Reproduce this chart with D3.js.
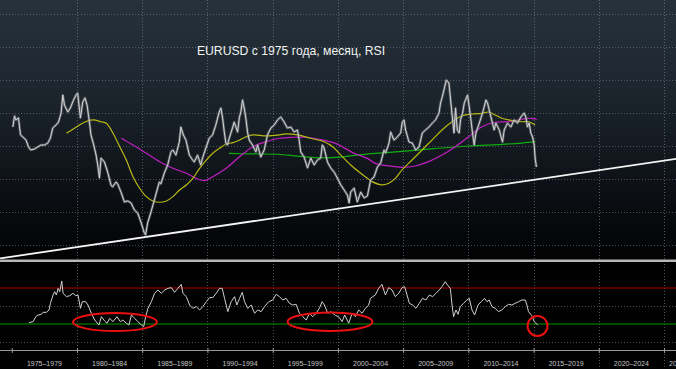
<!DOCTYPE html>
<html>
<head>
<meta charset="utf-8">
<script src="https://cdn.jsdelivr.net/npm/d3@7"></script>
<style>
  html, body { margin: 0; padding: 0; background: #000; overflow: hidden; }
  svg { display: block; }
</style>
</head>
<body>
<svg id="chart"></svg>
<script>
// EURUSD monthly (synthetic before 1999), [year, rate]
const eurusd = [[1975.08,1.315],[1975.21,1.382],[1975.31,1.358],[1975.51,1.370],[1975.67,1.267],[1975.84,1.255],[1976.09,1.236],[1976.28,1.194],[1976.45,1.176],[1976.74,1.182],[1976.99,1.194],[1977.24,1.206],[1977.50,1.206],[1977.76,1.218],[1977.96,1.248],[1978.14,1.309],[1978.39,1.327],[1978.58,1.345],[1978.78,1.400],[1978.91,1.509],[1979.04,1.448],[1979.29,1.406],[1979.49,1.430],[1979.67,1.467],[1979.92,1.509],[1980.05,1.521],[1980.26,1.370],[1980.44,1.467],[1980.61,1.491],[1980.77,1.448],[1980.95,1.345],[1981.07,1.267],[1981.28,1.206],[1981.46,1.145],[1981.59,1.085],[1981.72,1.006],[1981.84,1.127],[1982.10,1.103],[1982.35,1.042],[1982.60,0.964],[1982.73,0.952],[1982.99,0.982],[1983.12,0.970],[1983.37,0.921],[1983.63,0.861],[1983.88,0.867],[1984.14,0.855],[1984.40,0.812],[1984.65,0.794],[1984.90,0.739],[1985.16,0.673],[1985.26,0.661],[1985.41,0.733],[1985.67,0.800],[1985.93,0.873],[1986.18,0.945],[1986.31,0.982],[1986.43,0.970],[1986.69,1.036],[1986.95,1.085],[1987.20,1.164],[1987.35,1.176],[1987.58,1.145],[1987.84,1.224],[1987.96,1.315],[1988.15,1.267],[1988.35,1.236],[1988.61,1.145],[1988.86,1.115],[1988.99,1.103],[1989.24,1.145],[1989.49,1.085],[1989.62,1.127],[1989.88,1.188],[1990.14,1.248],[1990.39,1.267],[1990.64,1.327],[1990.90,1.406],[1991.03,1.430],[1991.16,1.370],[1991.29,1.285],[1991.41,1.218],[1991.54,1.206],[1991.67,1.248],[1991.92,1.309],[1992.05,1.345],[1992.31,1.285],[1992.44,1.370],[1992.56,1.406],[1992.69,1.479],[1992.82,1.430],[1992.94,1.370],[1993.07,1.285],[1993.20,1.236],[1993.45,1.206],[1993.71,1.164],[1993.84,1.206],[1994.09,1.133],[1994.35,1.176],[1994.60,1.267],[1994.86,1.309],[1995.12,1.327],[1995.37,1.358],[1995.62,1.376],[1995.88,1.345],[1996.13,1.309],[1996.39,1.315],[1996.65,1.285],[1996.90,1.297],[1997.03,1.236],[1997.15,1.164],[1997.41,1.133],[1997.67,1.067],[1997.92,1.127],[1998.18,1.085],[1998.43,1.115],[1998.68,1.127],[1998.81,1.206],[1998.94,1.188],[1999.20,1.103],[1999.45,1.067],[1999.71,1.042],[1999.96,1.006],[2000.22,0.964],[2000.48,0.933],[2000.73,0.903],[2000.86,0.855],[2000.98,0.921],[2001.24,0.945],[2001.49,0.861],[2001.75,0.921],[2002.01,0.885],[2002.26,0.897],[2002.51,0.994],[2002.77,1.012],[2003.03,1.073],[2003.28,1.097],[2003.54,1.176],[2003.66,1.158],[2003.92,1.218],[2004.04,1.285],[2004.30,1.236],[2004.56,1.255],[2004.81,1.279],[2004.94,1.345],[2005.07,1.358],[2005.19,1.297],[2005.45,1.224],[2005.70,1.218],[2005.96,1.176],[2006.22,1.194],[2006.47,1.279],[2006.72,1.297],[2006.98,1.315],[2007.24,1.339],[2007.49,1.358],[2007.75,1.400],[2007.87,1.461],[2008.00,1.497],[2008.13,1.539],[2008.31,1.600],[2008.51,1.582],[2008.64,1.479],[2008.77,1.376],[2008.90,1.279],[2009.02,1.430],[2009.15,1.297],[2009.30,1.279],[2009.40,1.358],[2009.56,1.400],[2009.69,1.461],[2009.94,1.509],[2010.07,1.436],[2010.20,1.358],[2010.32,1.279],[2010.45,1.206],[2010.58,1.279],[2010.84,1.339],[2011.09,1.400],[2011.35,1.479],[2011.47,1.461],[2011.60,1.418],[2011.85,1.339],[2011.98,1.297],[2012.11,1.339],[2012.37,1.297],[2012.62,1.224],[2012.75,1.297],[2013.00,1.339],[2013.26,1.315],[2013.51,1.358],[2013.77,1.339],[2014.03,1.376],[2014.28,1.400],[2014.41,1.376],[2014.53,1.315],[2014.66,1.339],[2014.79,1.279],[2014.92,1.255],[2015.05,1.206],[2015.12,1.127],[2015.22,1.073]];

// moving averages
const maYellow = [[1979.19,1.277],[1979.80,1.307],[1980.57,1.344],[1981.23,1.358],[1981.84,1.347],[1982.25,1.338],[1982.76,1.277],[1983.27,1.196],[1983.78,1.115],[1984.29,1.014],[1984.80,0.944],[1985.31,0.893],[1985.82,0.867],[1986.33,0.859],[1986.85,0.867],[1987.35,0.893],[1987.86,0.933],[1988.38,0.964],[1988.88,1.004],[1989.40,1.065],[1989.91,1.115],[1990.41,1.156],[1990.93,1.186],[1991.44,1.212],[1991.95,1.220],[1992.46,1.236],[1992.97,1.256],[1993.48,1.267],[1994.50,1.261],[1995.52,1.267],[1996.03,1.273],[1996.90,1.267],[1997.92,1.247],[1998.94,1.226],[1999.60,1.196],[2000.22,1.145],[2000.98,1.085],[2001.75,1.035],[2002.26,1.004],[2002.62,0.984],[2003.38,0.964],[2003.89,0.974],[2004.40,1.004],[2004.92,1.055],[2005.68,1.115],[2006.45,1.176],[2007.21,1.236],[2007.98,1.297],[2008.75,1.347],[2009.51,1.382],[2010.28,1.394],[2011.04,1.398],[2011.55,1.406],[2012.06,1.388],[2012.57,1.368],[2013.08,1.358],[2014.11,1.347],[2014.61,1.347],[2015.12,1.327]];
const maMagenta = [[1983.40,1.247],[1984.29,1.206],[1985.31,1.156],[1986.33,1.105],[1987.35,1.065],[1988.38,1.035],[1989.14,1.004],[1989.78,0.990],[1990.41,1.014],[1991.44,1.065],[1992.46,1.135],[1993.48,1.196],[1994.50,1.226],[1995.52,1.247],[1996.54,1.253],[1997.57,1.253],[1998.58,1.241],[1999.81,1.216],[2001.24,1.156],[2002.26,1.125],[2002.87,1.095],[2003.89,1.079],[2004.92,1.071],[2005.93,1.079],[2006.95,1.105],[2007.98,1.145],[2009.00,1.196],[2010.02,1.256],[2011.04,1.317],[2012.06,1.344],[2013.08,1.347],[2014.11,1.362],[2014.79,1.368],[2015.25,1.361]];
const maGreen = [[1991.64,1.155],[1993.48,1.152],[1995.37,1.150],[1996.90,1.139],[1998.43,1.129],[1999.96,1.131],[2001.49,1.145],[2002.36,1.152],[2004.92,1.167],[2007.47,1.185],[2010.02,1.200],[2012.57,1.210],[2014.11,1.218],[2015.16,1.226]];

// long-term support line through the 1985 and 2000 lows
const trend = [[1973.0,0.506],[2027.0,1.134]];

// RSI (monthly)
const rsi = [[1976.32,31.5],[1976.63,32.6],[1976.84,38.1],[1977.01,40.0],[1977.27,40.7],[1977.40,43.0],[1977.66,43.0],[1977.86,45.6],[1977.96,53.0],[1978.16,62.2],[1978.29,65.9],[1978.42,62.2],[1978.55,69.6],[1978.68,65.9],[1978.83,77.8],[1978.93,64.1],[1979.19,60.4],[1979.44,61.5],[1979.69,64.1],[1979.90,61.5],[1980.08,62.2],[1980.26,47.4],[1980.41,54.8],[1980.67,54.8],[1980.84,51.1],[1981.10,41.9],[1981.36,34.4],[1981.68,28.9],[1981.87,38.1],[1982.12,33.3],[1982.30,30.8],[1982.50,36.3],[1982.76,32.6],[1983.06,38.1],[1983.32,32.6],[1983.52,34.4],[1983.78,30.8],[1983.98,28.9],[1984.17,40.0],[1984.42,36.3],[1984.67,32.6],[1984.93,28.9],[1985.11,27.0],[1985.26,38.1],[1985.44,47.4],[1985.70,54.8],[1985.95,64.1],[1986.20,67.8],[1986.46,64.1],[1986.72,67.8],[1986.97,69.6],[1987.23,70.4],[1987.48,65.2],[1987.73,69.6],[1987.99,74.1],[1988.12,64.1],[1988.38,60.4],[1988.63,51.1],[1988.88,47.4],[1989.14,49.3],[1989.40,45.6],[1989.65,49.3],[1989.91,54.8],[1990.16,59.3],[1990.41,59.3],[1990.67,64.1],[1990.93,69.6],[1991.13,69.6],[1991.31,58.5],[1991.56,43.7],[1991.82,54.8],[1992.08,60.4],[1992.25,51.1],[1992.46,58.5],[1992.67,65.2],[1992.84,54.8],[1993.09,47.4],[1993.35,51.1],[1993.61,41.9],[1993.86,45.6],[1994.12,43.7],[1994.37,49.3],[1994.70,54.8],[1995.01,56.7],[1995.27,63.0],[1995.52,60.4],[1995.77,56.7],[1996.03,58.5],[1996.29,53.0],[1996.54,51.1],[1996.80,51.9],[1997.05,41.9],[1997.31,38.1],[1997.57,34.4],[1997.82,41.9],[1998.07,38.1],[1998.33,41.9],[1998.58,47.4],[1998.79,54.8],[1998.97,51.1],[1999.22,41.9],[1999.48,43.7],[1999.81,39.5],[2000.06,38.1],[2000.32,32.6],[2000.52,40.0],[2000.83,30.8],[2001.09,41.9],[2001.34,38.1],[2001.59,45.6],[2001.85,41.9],[2002.11,47.4],[2002.36,51.1],[2002.49,58.5],[2002.67,60.4],[2002.87,62.2],[2003.12,69.6],[2003.38,74.1],[2003.64,62.2],[2003.89,70.4],[2004.15,67.8],[2004.40,60.4],[2004.66,64.1],[2004.92,70.4],[2005.12,71.5],[2005.30,62.2],[2005.48,53.0],[2005.73,51.1],[2005.99,47.4],[2006.24,53.0],[2006.49,58.5],[2006.75,56.7],[2007.01,62.2],[2007.26,60.4],[2007.52,64.1],[2007.77,67.8],[2007.98,71.5],[2008.23,77.0],[2008.44,72.6],[2008.62,69.6],[2008.75,51.1],[2008.87,38.1],[2009.05,45.6],[2009.21,40.7],[2009.38,49.3],[2009.63,53.0],[2009.89,56.7],[2010.07,58.5],[2010.28,45.6],[2010.48,40.0],[2010.74,51.1],[2010.99,54.8],[2011.24,58.5],[2011.43,54.8],[2011.60,56.7],[2011.81,49.3],[2012.06,47.4],[2012.31,43.7],[2012.57,45.6],[2012.83,49.3],[2013.08,51.9],[2013.34,51.1],[2013.59,53.0],[2013.85,54.8],[2014.11,56.7],[2014.36,56.7],[2014.49,51.1],[2014.61,43.7],[2014.87,39.2],[2015.05,32.6],[2015.33,28.9]];

const rsiOverbought = 70;
const rsiOversold = 30;
const rsiGrid = [50, 10];
const priceGrid = [0.6, 0.8, 1.0, 1.2, 1.4, 1.6, 1.8, 2.0];
const periodStarts = [1975, 1980, 1985, 1990, 1995, 2000, 2005, 2010, 2015, 2020, 2025];
const periodLabels = ["1975–1979", "1980–1984", "1985–1989", "1990–1994", "1995–1999", "2000–2004", "2005–2009", "2010–2014", "2015–2019", "2020–2024", "2025–2029"];

// oversold zones circled on the RSI panel
const circled = [
  {from: 1979.69, to: 1986.13, lo: 22.2, hi: 42.2},
  {from: 1996.14, to: 2002.65, lo: 22.2, hi: 42.8},
  {from: 2014.54, to: 2016.07, lo: 16.7, hi: 38.9}
];

const title = "EURUSD с 1975 года, месяц, RSI";

// ---- layout
const W = 676, H = 369;
const mainBottom = 259;
const axisY = 350;

const svg = d3.select("#chart").attr("width", W).attr("height", H);
const defs = svg.append("defs");

const grad = defs.append("linearGradient").attr("id", "bg")
  .attr("x1", 0).attr("y1", 0).attr("x2", 0).attr("y2", 1);
[[0, "#26313a"], [0.3, "#1f2830"], [0.5, "#161d24"], [0.7, "#0e1218"], [0.85, "#07090c"], [1, "#020203"]]
  .forEach(s => grad.append("stop").attr("offset", s[0]).attr("stop-color", s[1]));

defs.append("clipPath").attr("id", "mainClip")
  .append("rect").attr("x", 0).attr("y", 0).attr("width", W).attr("height", mainBottom);

svg.append("rect").attr("width", W).attr("height", H).attr("fill", "#010101");
svg.append("rect").attr("width", W).attr("height", mainBottom).attr("fill", "url(#bg)");

// scales
const x = d3.scaleLinear().domain([1975, 2025]).range([11.8, 664]);
const y = d3.scaleLinear().domain([0.6, 1.6]).range([245, 80]);
const yr = d3.scaleLinear().domain([rsiOversold, rsiOverbought]).range([324, 288]);

// grid
const grid = svg.append("g");
grid.selectAll(".hgrid").data(priceGrid).enter().append("line")
  .attr("x1", 0).attr("x2", W)
  .attr("y1", d => Math.round(y(d)) + 0.5).attr("y2", d => Math.round(y(d)) + 0.5)
  .attr("stroke", "#7b8690").attr("stroke-opacity", 0.55).attr("stroke-dasharray", "1,2");
grid.selectAll(".rgrid").data(rsiGrid).enter().append("line")
  .attr("x1", 0).attr("x2", W)
  .attr("y1", d => Math.round(yr(d)) + 0.5).attr("y2", d => Math.round(yr(d)) + 0.5)
  .attr("stroke", "#8a8a8a").attr("stroke-opacity", 0.55).attr("stroke-dasharray", "1,2");
grid.selectAll(".vgrid").data(periodStarts.slice(1)).enter().append("line")
  .attr("x1", d => Math.round(x(d)) + 0.5).attr("x2", d => Math.round(x(d)) + 0.5)
  .attr("y1", 0).attr("y2", H)
  .attr("stroke", "#8a949d").attr("stroke-opacity", 0.55).attr("stroke-dasharray", "1,2");

// title
svg.append("text")
  .attr("x", 291).attr("y", 55)
  .attr("text-anchor", "middle")
  .attr("font-family", "'Liberation Sans', Arial, sans-serif")
  .attr("font-size", 12.2)
  .attr("fill", "#f2f2f2")
  .text(title);

// main panel series
const main = svg.append("g").attr("clip-path", "url(#mainClip)");
const line = d3.line().x(d => x(d[0])).y(d => y(d[1]));
const smooth = d3.line().x(d => x(d[0])).y(d => y(d[1])).curve(d3.curveCatmullRom);

main.append("path").datum(trend).attr("d", line)
  .attr("fill", "none").attr("stroke", "#f4f4f4").attr("stroke-width", 1.8);

main.append("path").datum(maGreen).attr("d", smooth)
  .attr("fill", "none").attr("stroke", "#0fae0f").attr("stroke-width", 1.2);
main.append("path").datum(maMagenta).attr("d", smooth)
  .attr("fill", "none").attr("stroke", "#c21fc2").attr("stroke-width", 1.2);
main.append("path").datum(maYellow).attr("d", smooth)
  .attr("fill", "none").attr("stroke", "#b9b914").attr("stroke-width", 1.2);

main.append("path").datum(eurusd).attr("d", line)
  .attr("fill", "none").attr("stroke", "#80858b").attr("stroke-width", 2.6).attr("stroke-opacity", 0.6)
  .attr("stroke-linejoin", "round");
main.append("path").datum(eurusd).attr("d", line)
  .attr("fill", "none").attr("stroke", "#d2d2d2").attr("stroke-width", 1)
  .attr("stroke-linejoin", "round");

// separator between panels
svg.append("rect").attr("x", 0).attr("y", mainBottom + 0.5).attr("width", W).attr("height", 2.5)
  .attr("fill", "#b5b7b9");

// RSI panel
svg.append("line").attr("x1", 0).attr("x2", W)
  .attr("y1", yr(rsiOverbought)).attr("y2", yr(rsiOverbought))
  .attr("stroke", "#b30000").attr("stroke-width", 1);
svg.append("line").attr("x1", 0).attr("x2", W)
  .attr("y1", yr(rsiOversold)).attr("y2", yr(rsiOversold))
  .attr("stroke", "#009a00").attr("stroke-width", 1);

const rsiLine = d3.line().x(d => x(d[0])).y(d => yr(d[1]));
svg.append("path").datum(rsi).attr("d", rsiLine)
  .attr("fill", "none").attr("stroke", "#d0d0d0").attr("stroke-width", 1);

svg.selectAll(".zone").data(circled).enter().append("ellipse")
  .attr("cx", d => x((d.from + d.to) / 2))
  .attr("cy", d => yr((d.lo + d.hi) / 2))
  .attr("rx", d => (x(d.to) - x(d.from)) / 2)
  .attr("ry", d => (yr(d.lo) - yr(d.hi)) / 2)
  .attr("fill", "none").attr("stroke", "#ec1010").attr("stroke-width", 2);

// time axis
const xAxis = d3.axisBottom(x).tickValues(periodStarts).tickSize(3).tickFormat("");
const axisG = svg.append("g").attr("transform", `translate(0,${axisY})`).call(xAxis);
axisG.select(".domain").attr("stroke", "#9a9a9a").attr("d", `M0,0.5H${W}`);
axisG.selectAll(".tick line").attr("stroke", "#9a9a9a").attr("y1", -2);

svg.selectAll(".period").data(periodLabels).enter().append("text")
  .attr("x", (d, i) => i < periodLabels.length - 1
    ? (x(periodStarts[i]) + x(periodStarts[i] + 5)) / 2
    : x(periodStarts[i]) + 5)
  .attr("y", 366)
  .attr("text-anchor", (d, i) => i < periodLabels.length - 1 ? "middle" : "start")
  .attr("font-family", "'Liberation Sans', Arial, sans-serif")
  .attr("font-size", 7)
  .attr("fill", "#c4c4c4")
  .text(d => d);
</script>
</body>
</html>
